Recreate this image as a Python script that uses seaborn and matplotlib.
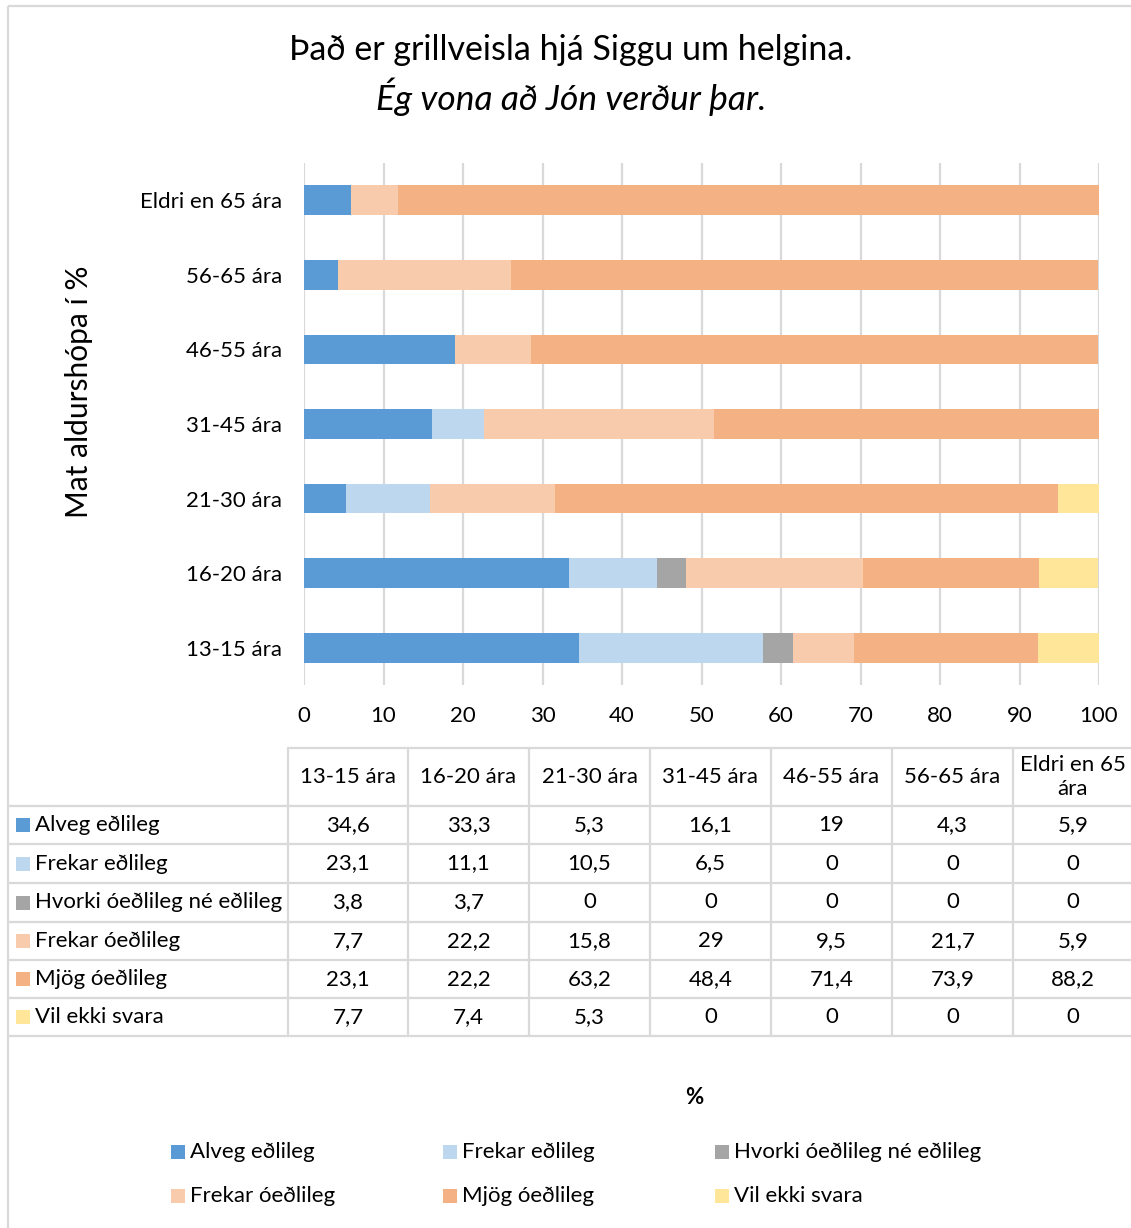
import matplotlib
matplotlib.use("Agg")
import matplotlib.pyplot as plt
from matplotlib.patches import Rectangle
import numpy as np
import pandas as pd
import seaborn as sns

# Age groups, bottom-to-top as drawn on the bar chart
age_groups = ["13-15 ára", "16-20 ára", "21-30 ára", "31-45 ára",
              "46-55 ára", "56-65 ára", "Eldri en 65 ára"]
table_headers = ["13-15 ára", "16-20 ára", "21-30 ára", "31-45 ára",
                 "46-55 ára", "56-65 ára", "Eldri en 65\nára"]

# Answer categories (stack order, left to right)
answers = ["Alveg eðlileg", "Frekar eðlileg", "Hvorki óeðlileg né eðlileg",
           "Frekar óeðlileg", "Mjög óeðlileg", "Vil ekki svara"]

alveg_edlileg = [34.6, 33.3, 5.3, 16.1, 19, 4.3, 5.9]
frekar_edlileg = [23.1, 11.1, 10.5, 6.5, 0, 0, 0]
hvorki = [3.8, 3.7, 0, 0, 0, 0, 0]
frekar_oedlileg = [7.7, 22.2, 15.8, 29, 9.5, 21.7, 5.9]
mjog_oedlileg = [23.1, 22.2, 63.2, 48.4, 71.4, 73.9, 88.2]
vil_ekki_svara = [7.7, 7.4, 5.3, 0, 0, 0, 0]

series = [alveg_edlileg, frekar_edlileg, hvorki,
          frekar_oedlileg, mjog_oedlileg, vil_ekki_svara]
colors = ["#5B9BD5", "#BDD7EE", "#A5A5A5", "#F8CBAD", "#F4B183", "#FFE699"]

title_1 = "Það er grillveisla hjá Siggu um helgina."
title_2 = "Ég vona að Jón verður þar."
y_label = "Mat aldurshópa í %"
x_title = "%"

sns.set_theme(style="white")
plt.rcParams["font.family"] = ["Lato", "DejaVu Sans"]
TXT = "#000000"
GRID = "#D9D9D9"
FS = 16

W, H = 1131, 1228
fig = plt.figure(figsize=(W / 100, H / 100), dpi=100)
fig.patch.set_facecolor("white")

# Main stacked horizontal bar chart
ax = fig.add_axes([304 / W, 1 - 685 / H, 795 / W, 522 / H])
df = pd.DataFrame(dict(zip(answers, series)), index=age_groups)
cum = df.cumsum(axis=1)
order = age_groups[::-1]
long = cum.reset_index().rename(columns={"index": "age"})
for name, col in reversed(list(zip(answers, colors))):
    sns.barplot(data=long, x=name, y="age", order=order, orient="h",
                color=col, saturation=1, width=0.4, linewidth=0,
                errorbar=None, ax=ax)

ax.set_xlim(0, 100)
ax.set_xticks(np.arange(0, 101, 10))
ax.set_xlabel("")
ax.set_ylabel(y_label, fontsize=21.5, color=TXT)
ax.yaxis.set_label_coords((93 - 304) / 795, (685 - 392) / 522)
ax.grid(axis="x", color=GRID, linewidth=1.6)
ax.grid(axis="y", visible=False)
ax.set_axisbelow(True)
for s in ax.spines.values():
    s.set_visible(False)
ax.tick_params(axis="y", length=0, pad=16, labelsize=FS, labelcolor=TXT)
ax.tick_params(axis="x", length=0, pad=15, labelsize=FS, labelcolor=TXT)

# Overlay in pixel coordinates for frame, titles, data table and legend
ov = fig.add_axes([0, 0, 1, 1], facecolor="none")
ov.set_xlim(0, W)
ov.set_ylim(H, 0)
ov.axis("off")

ov.plot([8, 8], [6, H], color=GRID, lw=1.6, solid_capstyle="butt")
ov.plot([8, W], [6, 6], color=GRID, lw=1.6, solid_capstyle="butt")

ov.text(571, 50, title_1, ha="center", va="center", fontsize=24.5, color=TXT)
ov.text(571, 97, title_2, ha="center", va="center", fontsize=25.5,
        style="italic", color=TXT)

# Data table
col_edges = [288, 408, 529, 650, 771, 892, 1013, W]
row_edges = [806, 844, 883, 922, 960, 998, 1036]
ov.plot([288, W], [748, 748], color=GRID, lw=1.6)
for y in row_edges:
    ov.plot([8, W], [y, y], color=GRID, lw=1.6)
for x in col_edges[:-1]:
    ov.plot([x, x], [748, 1036], color=GRID, lw=1.6)

col_centers = [(col_edges[i] + col_edges[i + 1]) / 2 for i in range(7)]
col_centers[-1] = 1073
for cx, head in zip(col_centers, table_headers):
    ov.text(cx, 777, head, ha="center", va="center", fontsize=FS,
            color=TXT, linespacing=1.3)

def fmt(v):
    return f"{v:g}".replace(".", ",")

for i, (name, vals, col) in enumerate(zip(answers, series, colors)):
    cy = (row_edges[i] + row_edges[i + 1]) / 2
    ov.add_patch(Rectangle((16, cy - 7), 14, 14, color=col, lw=0))
    ov.text(35, cy, name, ha="left", va="center", fontsize=FS, color=TXT)
    for cx, v in zip(col_centers, vals):
        ov.text(cx, cy, fmt(v), ha="center", va="center", fontsize=FS,
                color=TXT)

ov.text(694, 1097, x_title, ha="center", va="center", fontsize=16,
        fontweight="bold", color=TXT)

# Legend, 3 columns x 2 rows
leg_x = [171, 443, 715]
leg_y = [1152, 1196]
for i, (name, col) in enumerate(zip(answers, colors)):
    lx = leg_x[i % 3]
    ly = leg_y[i // 3]
    ov.add_patch(Rectangle((lx, ly - 7), 14, 14, color=col, lw=0))
    ov.text(lx + 19, ly, name, ha="left", va="center", fontsize=FS, color=TXT)

fig.savefig("out.png", dpi=100)
